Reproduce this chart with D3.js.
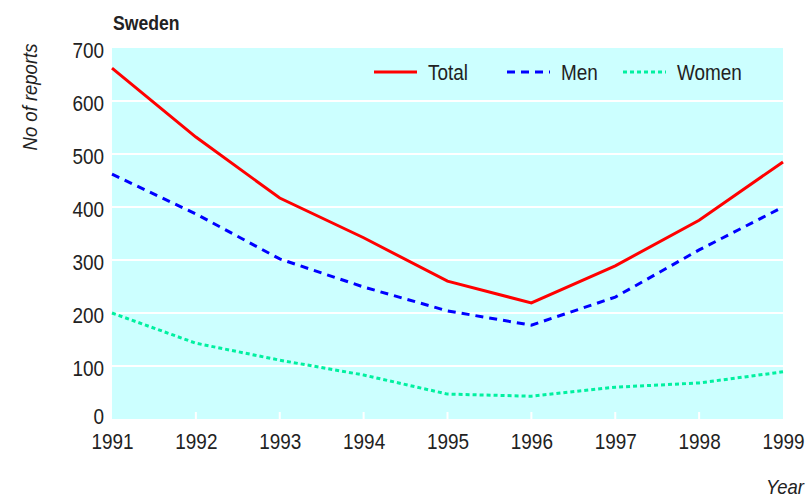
<!DOCTYPE html>
<meta charset="utf-8">
<html>
<head>
<script src="https://d3js.org/d3.v7.min.js"></script>
<style>
  body { margin: 0; background: #fff; }
  text { font-family: "Liberation Sans", Arial, sans-serif; fill: #222; }
</style>
</head>
<body>
<div id="chart"></div>
<script>
  // data
  const years = [1991, 1992, 1993, 1994, 1995, 1996, 1997, 1998, 1999];
  const total = [662, 532, 417, 342, 260, 219, 289, 375, 485];
  const men   = [462, 387, 302, 249, 204, 177, 230, 319, 400];
  const women = [200, 143, 111, 83, 47, 43, 60, 68, 89];
  const yTicks = [0, 100, 200, 300, 400, 500, 600, 700];

  const series = [
    {name: "Total", values: total, color: "#ff0000", dash: null},
    {name: "Men", values: men, color: "#0000ff", dash: "8,6"},
    {name: "Women", values: women, color: "#00f0a0", dash: "4,3"}
  ];

  const W = 808, H = 498;
  const margin = {top: 48, right: 25, bottom: 79, left: 112};
  const width = W - margin.left - margin.right,
        height = H - margin.top - margin.bottom;

  // squeeze text horizontally, the original uses a narrow face
  function narrow(sel, k) {
    sel.each(function() {
      const len = this.getComputedTextLength();
      d3.select(this).attr("textLength", len * k).attr("lengthAdjust", "spacingAndGlyphs");
    });
  }

  const svg = d3.select("#chart").append("svg")
      .attr("width", W).attr("height", H);
  const g = svg.append("g")
      .attr("transform", `translate(${margin.left},${margin.top})`);

  const x = d3.scaleLinear().domain([1991, 1999]).range([0, width]);
  const y = d3.scaleLinear().domain([0, 700]).range([height, 0]);

  // background
  g.append("rect").attr("width", width).attr("height", height).attr("fill", "#ccffff");

  // gridlines
  g.selectAll(".grid").data(yTicks.filter(d => d > 0 && d < 700)).join("line")
    .attr("x1", 0).attr("x2", width)
    .attr("y1", d => y(d)).attr("y2", d => y(d))
    .attr("stroke", "#fff").attr("stroke-width", 2);

  // small inside ticks on x
  g.selectAll(".xt").data(years.slice(1, -1)).join("line")
    .attr("x1", d => x(d)).attr("x2", d => x(d))
    .attr("y1", height).attr("y2", height - 7)
    .attr("stroke", "#fff").attr("stroke-width", 2);

  // axes labels via d3 axes, domain hidden
  const xAxis = g.append("g").attr("transform", `translate(0,${height})`)
    .call(d3.axisBottom(x).tickValues(years).tickFormat(d3.format("d")).tickSize(0).tickPadding(14));
  const yAxis = g.append("g")
    .call(d3.axisLeft(y).tickValues(yTicks).tickSize(0).tickPadding(8));
  [xAxis, yAxis].forEach(a => {
    a.select(".domain").remove();
    a.selectAll("text").attr("font-size", 22).attr("fill", "#222")
      .attr("font-family", "'Liberation Sans', Arial, sans-serif")
      .call(narrow, 0.86);
  });
  yAxis.selectAll("text").attr("dy", d => d === 0 ? "0.2em" : "0.42em");

  // lines
  const line = d3.line().x((d, i) => x(years[i])).y(d => y(d));
  series.forEach(s => {
    g.append("path").datum(s.values)
      .attr("d", line)
      .attr("fill", "none")
      .attr("stroke", s.color)
      .attr("stroke-width", 3)
      .attr("stroke-dasharray", s.dash);
  });

  // legend
  const legX = [262, 395, 511];
  series.forEach((s, i) => {
    const lg = g.append("g").attr("transform", `translate(${legX[i]},24)`);
    lg.append("line").attr("x1", 0).attr("x2", 43).attr("y1", 0).attr("y2", 0)
      .attr("stroke", s.color).attr("stroke-width", 3).attr("stroke-dasharray", s.dash);
    lg.append("text").attr("x", 54).attr("y", 8).attr("font-size", 22).text(s.name)
      .call(narrow, 0.86);
  });

  // title
  svg.append("text").attr("x", 113).attr("y", 30)
    .attr("font-size", 20).attr("font-weight", "bold").text("Sweden")
    .call(narrow, 0.88);

  // axis titles
  svg.append("text")
    .attr("transform", "translate(37,97) rotate(-90)")
    .attr("text-anchor", "middle").attr("font-size", 21).attr("font-style", "italic")
    .text("No of reports")
    .call(narrow, 0.88);
  svg.append("text").attr("x", 804).attr("y", 494)
    .attr("text-anchor", "end").attr("font-size", 21).attr("font-style", "italic")
    .text("Year")
    .call(narrow, 0.88);
</script>
</body>
</html>
